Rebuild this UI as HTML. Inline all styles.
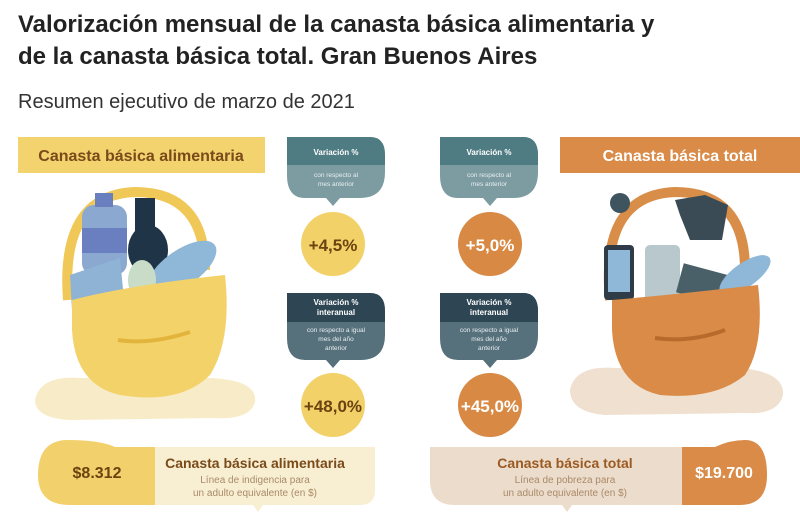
<!DOCTYPE html>
<html><head><meta charset="utf-8"><style>
body{margin:0;width:800px;height:523px;background:#fff;font-family:"Liberation Sans",sans-serif;overflow:hidden;position:relative}
.t{position:absolute;left:18px;font-weight:bold;font-size:24px;color:#222;line-height:32px}
</style></head><body>
<div class="t" style="top:9px">Valorización mensual de la canasta básica alimentaria y<br>de la canasta básica total. Gran Buenos Aires</div>
<div style="position:absolute;left:18px;top:91px;font-size:20px;color:#333">Resumen ejecutivo de marzo de 2021</div>
<svg width="800" height="523" style="position:absolute;left:0;top:0" font-family="Liberation Sans, sans-serif">
<rect x="18" y="137" width="247" height="36" fill="#f2d36e"/>
<text x="141" y="161" text-anchor="middle" font-size="16" font-weight="bold" fill="#7a4a1a">Canasta básica alimentaria</text>
<rect x="560" y="137" width="240" height="36" fill="#d98b47"/>
<text x="680" y="161" text-anchor="middle" font-size="16" font-weight="bold" fill="#fff">Canasta básica total</text>

<g>
<path d="M35 400 Q40 375 80 378 L210 378 Q258 380 255 402 Q250 420 215 418 L70 420 Q35 418 35 400Z" fill="#f8ecc8"/>
<path d="M68 300 Q60 195 135 192 Q205 192 205 270" fill="none" stroke="#f0c858" stroke-width="10"/>
<rect x="82" y="205" width="45" height="70" rx="12" fill="#8aa8d0"/>
<rect x="82" y="228" width="45" height="25" fill="#6a7fc0"/>
<rect x="95" y="193" width="18" height="14" fill="#6a7fc0"/>
<rect x="135" y="198" width="20" height="40" fill="#1f3446"/>
<ellipse cx="148" cy="250" rx="20" ry="25" fill="#1f3446"/>
<path d="M70 275 L120 258 L125 310 L72 310Z" fill="#8fb3d4"/>
<ellipse cx="182" cy="268" rx="40" ry="18" transform="rotate(-35 182 268)" fill="#8fb8d8"/>
<ellipse cx="142" cy="280" rx="14" ry="20" fill="#c8dcc8"/>
<path d="M72 300 Q130 285 225 275 Q232 340 210 375 Q180 405 120 395 Q75 385 72 330Z" fill="#f3d26a"/>
<path d="M118 340 Q150 345 190 332" stroke="#e3b43c" stroke-width="4" fill="none"/>
</g>

<g>
<path d="M570 390 Q575 365 615 368 L740 368 Q785 372 783 395 Q778 415 745 413 L605 415 Q570 412 570 390Z" fill="#f0e0d0"/>
<path d="M610 300 Q600 195 675 192 Q745 192 745 270" fill="none" stroke="#d88d48" stroke-width="10"/>
<path d="M675 200 L705 195 L728 205 L722 240 L690 240 L680 215Z" fill="#3a4b56"/>
<circle cx="620" cy="203" r="10" fill="#3e5560"/>
<rect x="604" y="245" width="30" height="55" rx="4" fill="#2f3c48"/>
<rect x="608" y="250" width="22" height="42" fill="#8fb8d8"/>
<rect x="645" y="245" width="35" height="60" rx="5" fill="#b8c8cc"/>
<rect x="680" y="268" width="55" height="30" fill="#4a6068" transform="rotate(15 700 280)"/>
<ellipse cx="745" cy="275" rx="30" ry="12" transform="rotate(-35 745 275)" fill="#8fb8d8"/>
<path d="M612 300 Q670 295 758 285 Q765 345 745 375 Q715 400 660 395 Q615 385 612 330Z" fill="#d98b47"/>
<path d="M655 338 Q690 343 725 330" stroke="#b86a2c" stroke-width="4" fill="none"/>
</g>

<g>
<path d="M287 137 L370 137 Q385 137 385 155 L385 172 Q385 198 360 198 L340 198 L333 206 L326 198 L305 198 Q287 198 287 175Z" fill="#7c9ca2"/>
<path d="M287 137 L370 137 Q385 137 385 155 L385 165 L287 165Z" fill="#4f7b82"/>
<text x="336" y="155" text-anchor="middle" font-size="8" font-weight="bold" fill="#fff">Variación %</text>
<text x="336" y="177" text-anchor="middle" font-size="6.5" fill="#e8eef0">con respecto al</text>
<text x="336" y="186" text-anchor="middle" font-size="6.5" fill="#e8eef0">mes anterior</text>
</g>
<g>
<path d="M440 137 L523 137 Q538 137 538 155 L538 172 Q538 198 513 198 L497 198 L490 206 L483 198 L458 198 Q440 198 440 175Z" fill="#7c9ca2"/>
<path d="M440 137 L523 137 Q538 137 538 155 L538 165 L440 165Z" fill="#4f7b82"/>
<text x="489" y="155" text-anchor="middle" font-size="8" font-weight="bold" fill="#fff">Variación %</text>
<text x="489" y="177" text-anchor="middle" font-size="6.5" fill="#e8eef0">con respecto al</text>
<text x="489" y="186" text-anchor="middle" font-size="6.5" fill="#e8eef0">mes anterior</text>
</g>
<g>
<path d="M287 293 L370 293 Q385 293 385 311 L385 335 Q385 360 360 360 L340 360 L333 368 L326 360 L305 360 Q287 360 287 338Z" fill="#56707c"/>
<path d="M287 293 L370 293 Q385 293 385 311 L385 322 L287 322Z" fill="#2e4654"/>
<text x="336" y="305" text-anchor="middle" font-size="8" font-weight="bold" fill="#fff">Variación %</text>
<text x="336" y="315" text-anchor="middle" font-size="8" font-weight="bold" fill="#fff">interanual</text>
<text x="336" y="332" text-anchor="middle" font-size="6.5" fill="#e8eef0">con respecto a igual</text>
<text x="336" y="341" text-anchor="middle" font-size="6.5" fill="#e8eef0">mes del año</text>
<text x="336" y="350" text-anchor="middle" font-size="6.5" fill="#e8eef0">anterior</text>
</g>
<g>
<path d="M440 293 L523 293 Q538 293 538 311 L538 335 Q538 360 513 360 L497 360 L490 368 L483 360 L458 360 Q440 360 440 338Z" fill="#56707c"/>
<path d="M440 293 L523 293 Q538 293 538 311 L538 322 L440 322Z" fill="#2e4654"/>
<text x="489" y="305" text-anchor="middle" font-size="8" font-weight="bold" fill="#fff">Variación %</text>
<text x="489" y="315" text-anchor="middle" font-size="8" font-weight="bold" fill="#fff">interanual</text>
<text x="489" y="332" text-anchor="middle" font-size="6.5" fill="#e8eef0">con respecto a igual</text>
<text x="489" y="341" text-anchor="middle" font-size="6.5" fill="#e8eef0">mes del año</text>
<text x="489" y="350" text-anchor="middle" font-size="6.5" fill="#e8eef0">anterior</text>
</g>

<circle cx="333" cy="244" r="32" fill="#f1d168"/>
<text x="333" y="251" text-anchor="middle" font-size="17" font-weight="bold" fill="#6b4210">+4,5%</text>
<circle cx="490" cy="244" r="32" fill="#d88a44"/>
<text x="490" y="251" text-anchor="middle" font-size="17" font-weight="bold" fill="#fff">+5,0%</text>
<circle cx="333" cy="405" r="32" fill="#f1d168"/>
<text x="333" y="412" text-anchor="middle" font-size="17" font-weight="bold" fill="#6b4210">+48,0%</text>
<circle cx="490" cy="405" r="32" fill="#d88a44"/>
<text x="490" y="412" text-anchor="middle" font-size="17" font-weight="bold" fill="#fff">+45,0%</text>

<g>
<path d="M155 447 L375 447 L375 490 Q375 505 360 505 L263 505 L258 512 L253 505 L155 505Z" fill="#f8efd2"/>
<path d="M68 440 Q100 440 115 447 L155 447 L155 505 L70 505 Q38 505 38 475 Q38 440 68 440Z" fill="#f2d16c"/>
<text x="97" y="478" text-anchor="middle" font-size="16" font-weight="bold" fill="#6b4210">$8.312</text>
<text x="255" y="468" text-anchor="middle" font-size="14" font-weight="bold" fill="#7a4a1a">Canasta básica alimentaria</text>
<text x="255" y="483" text-anchor="middle" font-size="10" fill="#a98a6a">Línea de indigencia para</text>
<text x="255" y="496" text-anchor="middle" font-size="10" fill="#a98a6a">un adulto equivalente (en $)</text>
</g>
<g>
<path d="M430 447 L682 447 L682 505 L572 505 L567 512 L562 505 L455 505 Q430 505 430 480Z" fill="#ecdccb"/>
<path d="M682 447 L715 447 Q730 440 745 440 Q767 440 767 475 Q767 505 740 505 L682 505Z" fill="#d98b47"/>
<text x="724" y="478" text-anchor="middle" font-size="16" font-weight="bold" fill="#fff">$19.700</text>
<text x="565" y="468" text-anchor="middle" font-size="14" font-weight="bold" fill="#9a5a22">Canasta básica total</text>
<text x="565" y="483" text-anchor="middle" font-size="10" fill="#a98a6a">Línea de pobreza para</text>
<text x="565" y="496" text-anchor="middle" font-size="10" fill="#a98a6a">un adulto equivalente (en $)</text>
</g>
</svg>
</body></html>
